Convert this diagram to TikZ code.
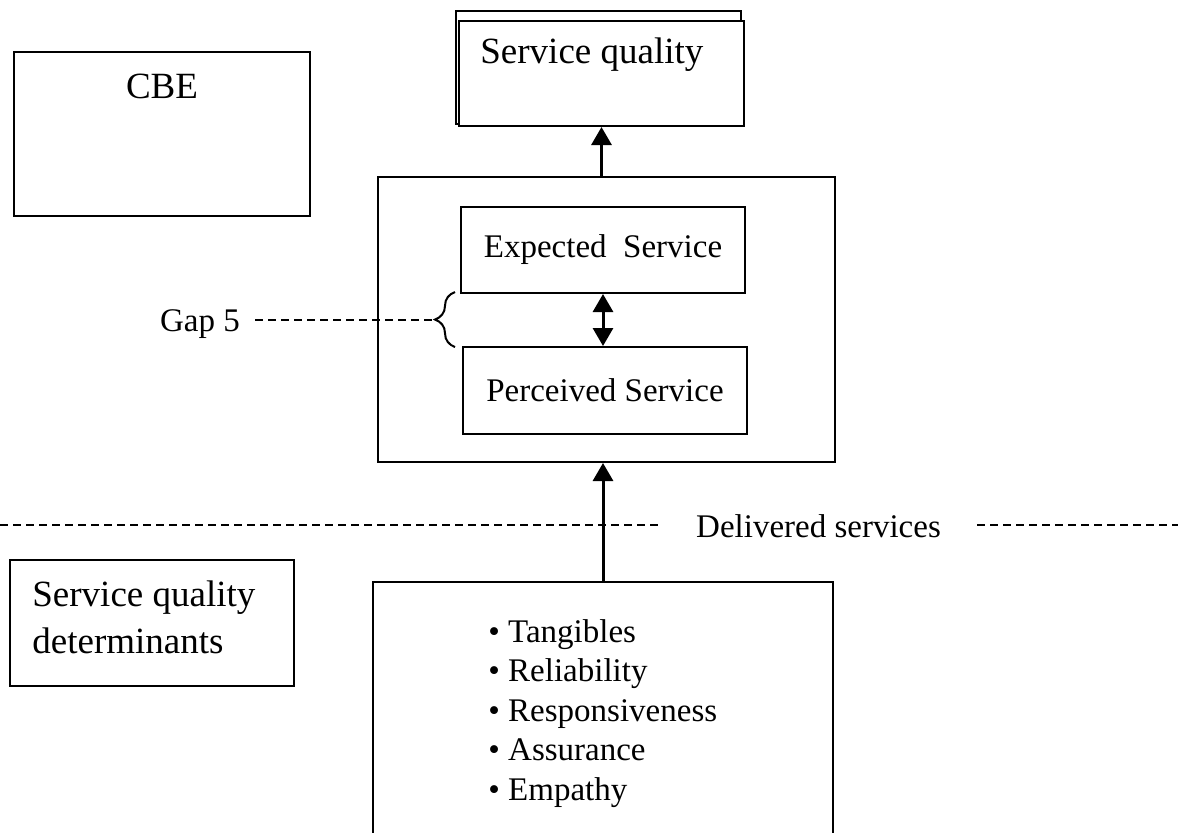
\documentclass[tikz,border=0pt]{standalone}
\usepackage{fontspec}
\setmainfont{Liberation Serif}
\usetikzlibrary{arrows.meta,decorations.pathreplacing}

\begin{document}
\begin{tikzpicture}[x=0.5pt,y=-0.5pt,
  box/.style={draw,line width=1pt,inner sep=0pt},
  bigtxt/.style={font=\fontsize{18.5}{23.5}\selectfont,inner sep=0pt},
  smalltxt/.style={font=\fontsize{16.5}{20}\selectfont,inner sep=0pt},
  arr/.style={-{Triangle[length=9pt,width=10pt]},line width=1.5pt},
  dblarr/.style={{Triangle[length=9pt,width=10pt]}-{Triangle[length=9pt,width=10pt]},line width=1.5pt},
  gapline/.style={line width=1pt,dash pattern=on 4pt off 2.5pt}]
\useasboundingbox (0,0) rectangle (1178,832);
\clip (0,0) rectangle (1178,832);
\node[box,minimum width=148pt,minimum height=82pt] (cbe) at (162,134) {};
\node[bigtxt,anchor=base] (cbetxt) at (162,98) {CBE};
\node[box,minimum width=142.5pt,minimum height=56.5pt] (sqback) at (598.5,67.5) {};
\node[box,fill=white,minimum width=142.5pt,minimum height=52.5pt] (sq) at (601.5,73.5) {};
\node[bigtxt,anchor=base west] (sqtxt) at (480,63) {Service quality};
\node[box,minimum width=228.5pt,minimum height=142.5pt] (gapbox) at (606.5,319.5) {};
\node[box,smalltxt,minimum width=142pt,minimum height=43pt] (exp) at (603,250) {Expected\ \ Service};
\node[box,smalltxt,minimum width=142pt,minimum height=43.5pt] (perc) at (605,390.5) {Perceived Service};
\draw[arr] (sq.south |- gapbox.north) -- (sq.south);
\draw[dblarr] (exp.south) -- (exp.south |- perc.north);
\node[smalltxt,inner xsep=7.5pt,anchor=base] (gap5) at (200,331) {Gap 5};
\coordinate (bracetop) at (455,292);
\coordinate (bracebot) at (455,347);
\coordinate (bracetip) at (435,320);
\draw[line width=1pt,decorate,decoration={brace,amplitude=10pt}] (bracebot) -- (bracetop);
\draw[gapline] (gap5.east |- bracetip) -- (bracetip);
\node[smalltxt,inner xsep=18pt,anchor=base] (deliv) at (818.5,537) {Delivered services};
\coordinate (delivL) at (0,525);
\coordinate (delivR) at (1178,525);
\draw[gapline] (delivL) -- (delivL -| deliv.west);
\draw[gapline] (delivR -| deliv.east) -- (delivR);
\node[box,minimum width=142pt,minimum height=63pt] (sqd) at (152,623) {};
\node[bigtxt,align=left,anchor=north west] (sqdtxt) at (32,580) {Service quality\\determinants};
\node[box,minimum width=230pt,minimum height=160pt] (dets) at (603,742) {};
\foreach \det [count=\i] in {Tangibles,Reliability,Responsiveness,Assurance,Empathy}
  \node[smalltxt,anchor=base west] (det\i) at (488,{642+39.5*(\i-1)}) {\textbullet\ \det};
\draw[arr] (dets.north) -- (dets.north |- gapbox.south);
\end{tikzpicture}
\end{document}
